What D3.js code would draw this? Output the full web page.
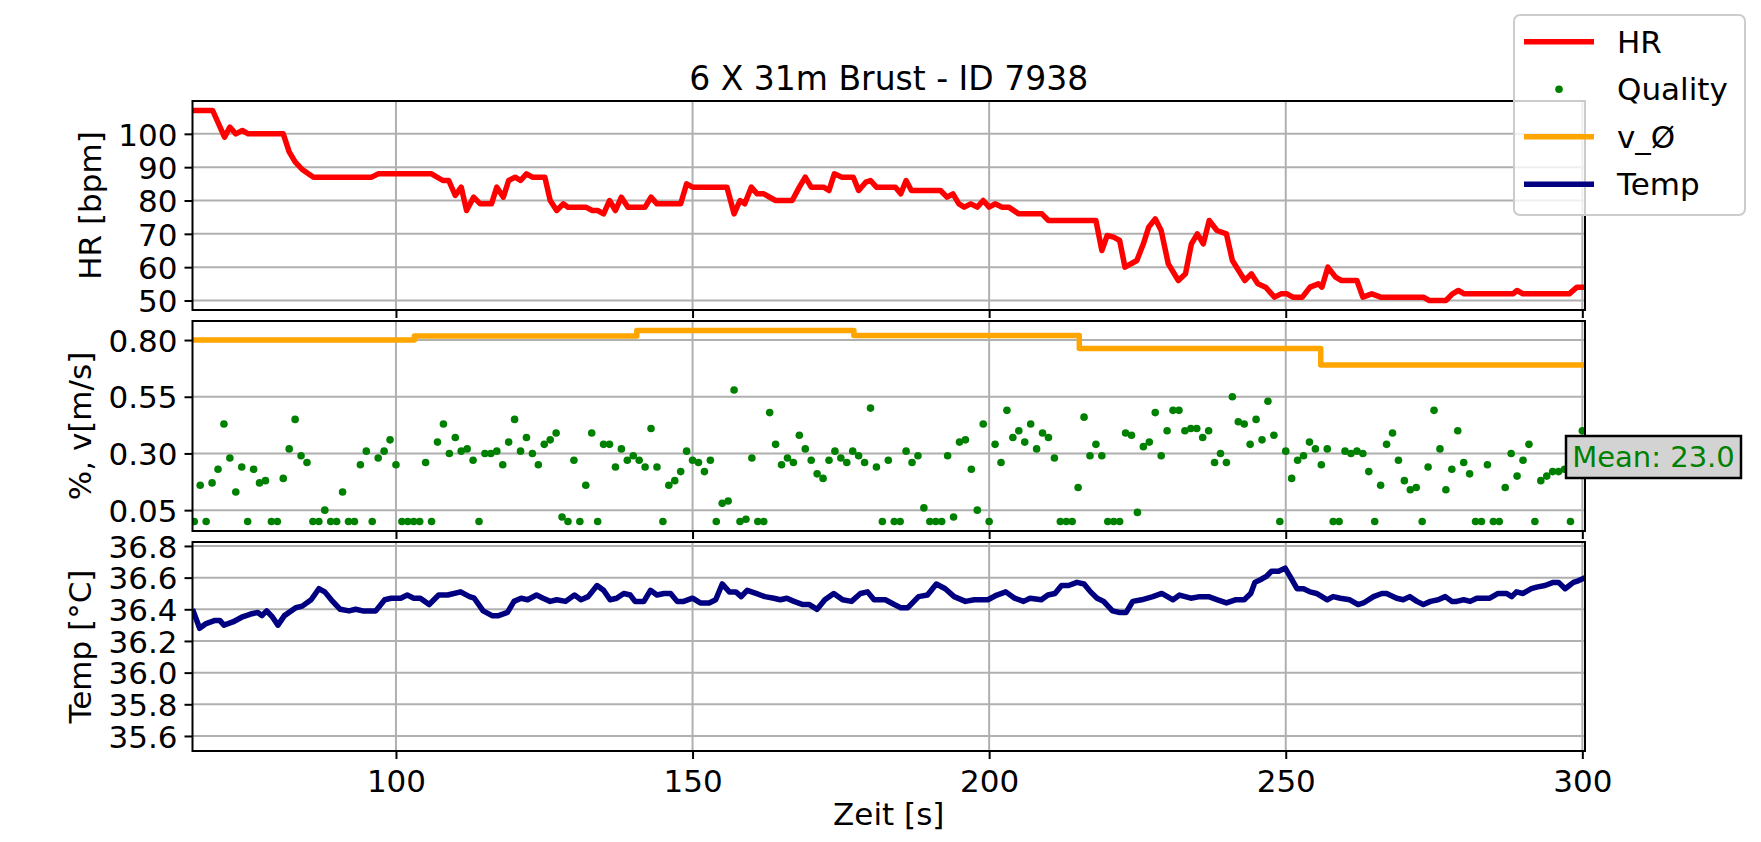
<!DOCTYPE html>
<html><head><meta charset="utf-8">
<script src="https://cdn.jsdelivr.net/npm/d3@7"></script>
<style>body{margin:0;background:#fff;} text{font-family:"DejaVu Sans",sans-serif;}</style>
</head><body>
<svg id="c" width="1761" height="842"></svg>
<script>
// ---------------- DATA ----------------
const title = "6 X 31m Brust - ID 7938";
const xTicks = [100, 150, 200, 250, 300];
const hrTicks = [50, 60, 70, 80, 90, 100];
const qvTicks = [0.05, 0.30, 0.55, 0.80];
const qvTickLabels = ["0.05", "0.30", "0.55", "0.80"];
const tempTicks = [35.6, 35.8, 36.0, 36.2, 36.4, 36.6, 36.8];

const hrT = [65.7,69.1,71.1,72,73,74.1,75.1,81,82,83,84.2,86.1,95.9,97,106,107.9,108.9,110,111,111.9,113.1,114.2,116.1,117,118.1,119,120.1,121,122,123,125.1,126,127.1,128.2,129,132,133.1,134,135,136,137,138,139.1,142,143,144,148,149,150,155.8,157,158,158.8,159.9,160.9,162,164,166.8,168,169,170,172.1,173,173.9,175.2,177.1,178,179.2,180,181,184.2,185.1,186,186.9,191.8,192.9,193.9,194.9,195.8,196.9,198,199,200,201,202.2,203.3,205,208.9,210,218,219,219.9,221,222,222.9,224.9,226,226.9,228,229,230.2,231.9,233.1,234.1,235.1,236.1,237.1,238.4,240,241,243.1,244.2,245.3,246.6,248.1,249.2,250.2,251.2,252.8,254.1,255.5,256.1,257.1,258.4,259.4,262,263,264.5,266,273.2,274.2,277,278.1,279.1,280.1,288.3,289,290,297.8,299.1,300.45];
const hrV = [107,107,99,102,100,101,100,100,94.6,91.6,89.3,87,87,88,88,86,86,81.5,84,77,81,79,79,84,81,86,87,86,88,87,87,80,77,79,78,78,77,77,76,80,77,81,78,78,81,79,79,85,84,84,76,80,79,84,82,82,80,80,84,87,84,84,83,88,87,87,83,85.5,86,84,84,82,86,83,83,81,82,79,78,79,78,80,78,79,78,78,76,76,74,74,65,69.5,69,68,60,62,67,72,74.5,71,61,56,58,67,70,67,74,71,70,62,56,58,55,54,51,52,52,51,51,54,55,54,60,57,56,56,51,52,51,51,50,50,52,53,52,52,53,52,52,54,54];

const qualityT = d3.range(66, 301);
const qualityV = [0,0.16,0,0.17,0.23,0.43,0.28,0.13,0.24,0,0.23,0.17,0.18,0,0,0.19,0.32,0.45,0.29,0.26,0,0,0.05,0,0,0.13,0,0,0.25,0.31,0,0.28,0.31,0.36,0.25,0,0,0,0,0.26,0,0.35,0.43,0.30,0.37,0.31,0.32,0.27,0,0.30,0.30,0.31,0.25,0.35,0.45,0.31,0.37,0.30,0.25,0.34,0.36,0.39,0.02,0,0.27,0,0.16,0.39,0,0.34,0.34,0.24,0.32,0.27,0.29,0.27,0.24,0.41,0.24,0,0.16,0.18,0.22,0.31,0.27,0.26,0.22,0.27,0,0.08,0.09,0.58,0,0.01,0.28,0,0,0.48,0.34,0.25,0.28,0.26,0.38,0.32,0.27,0.21,0.19,0.27,0.31,0.28,0.26,0.31,0.29,0.26,0.50,0.24,0,0.27,0,0,0.31,0.26,0.29,0.06,0,0,0,0.29,0.02,0.35,0.36,0.23,0.05,0.43,0,0.34,0.26,0.49,0.37,0.40,0.35,0.43,0.32,0.39,0.37,0.28,0,0,0,0.15,0.46,0.29,0.34,0.29,0,0,0,0.39,0.38,0.04,0.33,0.35,0.48,0.29,0.40,0.49,0.49,0.40,0.41,0.41,0.37,0.40,0.26,0.30,0.26,0.55,0.44,0.43,0.34,0.45,0.36,0.53,0.38,0,0.31,0.19,0.27,0.29,0.35,0.32,0.25,0.32,0,0,0.31,0.30,0.31,0.30,0.22,0,0.16,0.34,0.39,0.27,0.18,0.14,0.15,0,0.24,0.49,0.32,0.14,0.23,0.40,0.26,0.21,0,0,0.25,0,0,0.15,0.30,0.20,0.27,0.34,0,0.18,0.20,0.22,0.22,0.23,0,0.25,0.40];
const qualityMeanLabel = "Mean: 23.0";

const vT = [65.7, 103.1, 140.6, 177.2, 215.2, 255.9, 300.45];
const vV = [0.80, 0.818, 0.842, 0.82, 0.763, 0.69, 0.69];

const tempT = [65.7,66.9,68,69.5,70.3,71,72.5,74,75.5,76.7,77.4,78.2,79.2,80.1,81.2,83.1,84.2,85.7,87,88,89.1,90.6,92.1,93.2,94.4,96.6,98.1,99.2,100.8,101.9,103,104.1,105.6,107.2,108.7,110.9,112.4,113.2,114.7,116.2,117.3,118.8,119.9,121.1,122.2,123.7,124.8,126,127.1,128.6,130.1,131.2,132.4,133.9,135,136.1,137.2,138.4,139.5,140.3,141.8,142.9,144,145.2,146.3,147.4,148.5,150,151.3,152.8,153.9,155,156.2,157.3,158.2,159.2,160.7,162.2,163.7,164.8,165.9,167.1,168.6,169.7,171,172.3,173.8,175.3,176.8,178.3,179.5,180.6,182.5,184,185.1,186.3,188.1,189.6,191.1,192.6,194.1,196,197.5,199.8,201.3,202.8,204.3,205.8,206.9,208.8,209.9,211.1,212.2,213.4,214.8,216,217.1,218.2,219.3,220.8,222,223.1,224.2,225.7,227.6,229.1,231,232.1,234,235.5,237,238.5,240,241.5,243,244.1,244.8,245.9,246.8,247.6,248.8,249.9,250.7,251.9,253,254.1,255.2,256.1,257,258,259.2,260.8,262.2,263.1,264.8,266.2,267,268.7,269.8,270.9,272.1,273.2,274.4,275.7,276.9,278,278.8,280,281.1,282.2,284.4,285.8,287.2,288.1,288.9,290,291.4,292.3,293.7,295.1,296,297.1,298.5,299.3,300.45];
const tempV = [36.40,36.28,36.31,36.33,36.33,36.30,36.32,36.35,36.37,36.38,36.36,36.39,36.35,36.30,36.36,36.41,36.42,36.46,36.53,36.51,36.46,36.40,36.39,36.40,36.39,36.39,36.46,36.47,36.47,36.49,36.47,36.47,36.43,36.49,36.49,36.51,36.48,36.47,36.39,36.36,36.36,36.38,36.45,36.47,36.46,36.49,36.47,36.45,36.46,36.45,36.49,36.46,36.48,36.55,36.52,36.46,36.47,36.50,36.49,36.45,36.45,36.52,36.49,36.50,36.50,36.45,36.45,36.47,36.44,36.44,36.46,36.56,36.51,36.51,36.48,36.52,36.50,36.48,36.47,36.46,36.47,36.45,36.43,36.43,36.40,36.46,36.50,36.46,36.45,36.50,36.51,36.46,36.46,36.43,36.41,36.41,36.48,36.49,36.56,36.53,36.48,36.45,36.46,36.46,36.49,36.51,36.47,36.45,36.47,36.46,36.49,36.50,36.55,36.55,36.57,36.56,36.51,36.47,36.45,36.39,36.38,36.38,36.45,36.46,36.48,36.50,36.46,36.49,36.47,36.48,36.48,36.46,36.44,36.46,36.46,36.50,36.57,36.59,36.61,36.64,36.64,36.66,36.61,36.53,36.53,36.51,36.50,36.48,36.46,36.48,36.47,36.46,36.43,36.44,36.48,36.50,36.50,36.47,36.46,36.48,36.45,36.43,36.45,36.46,36.48,36.45,36.45,36.46,36.45,36.47,36.47,36.50,36.50,36.48,36.51,36.50,36.53,36.54,36.55,36.57,36.57,36.53,36.57,36.58,36.60];

const legendItems = [
  {label: "HR", color: "#ff0000", type: "line"},
  {label: "Quality", color: "#008000", type: "dot"},
  {label: "v_Ø", color: "#ffa500", type: "line"},
  {label: "Temp", color: "#000080", type: "line"}
];

// ---------------- LAYOUT ----------------
const svg = d3.select("#c");
const L = 192.5, R = 1585;
const panels = [
  {top: 101, bottom: 310},
  {top: 321, bottom: 531},
  {top: 542, bottom: 751}
];
const FS = 31;
const LW = 5.5;
const x = d3.scaleLinear().domain([65.7, 300.45]).range([L, R]);
const y1 = d3.scaleLinear().domain([47.15, 109.85]).range([panels[0].bottom, panels[0].top]);
const y2 = d3.scaleLinear().domain([-0.042, 0.884]).range([panels[1].bottom, panels[1].top]);
const y3 = d3.scaleLinear().domain([35.505, 36.825]).range([panels[2].bottom, panels[2].top]);
const yScales = [y1, y2, y3];
const yTickSets = [hrTicks, qvTicks, tempTicks];
const yFmt = [d => String(d), (d, i) => qvTickLabels[i], d => d.toFixed(1)];
const yLabels = ["HR [bpm]", "%, v[m/s]", "Temp [°C]"];
const yLabelX = [101, 91, 91];

const defs = svg.append("defs");
panels.forEach((p, i) => {
  defs.append("clipPath").attr("id", "clip" + i)
    .append("rect").attr("x", L).attr("y", p.top).attr("width", R - L).attr("height", p.bottom - p.top);
});

panels.forEach((p, i) => {
  const g = svg.append("g");
  const ys = yScales[i];
  const grid = g.append("g");
  xTicks.forEach(t => grid.append("line").attr("x1", x(t)).attr("x2", x(t)).attr("y1", p.top).attr("y2", p.bottom)
    .attr("stroke", "#b0b0b0").attr("stroke-width", 2));
  yTickSets[i].forEach(t => grid.append("line").attr("x1", L).attr("x2", R).attr("y1", ys(t)).attr("y2", ys(t))
    .attr("stroke", "#b0b0b0").attr("stroke-width", 2));
  const xa = d3.axisBottom(x).tickValues(xTicks).tickSize(8).tickPadding(7)
    .tickFormat(i === 2 ? d3.format("d") : () => "");
  const gx = g.append("g").attr("transform", `translate(0,${p.bottom})`).call(xa);
  gx.select(".domain").remove();
  gx.selectAll(".tick line").attr("stroke", "#000").attr("stroke-width", 2);
  gx.selectAll(".tick text").attr("font-size", FS).attr("fill", "#000").attr("font-family", "DejaVu Sans").attr("dy", "0.85em");
  const ya = d3.axisLeft(ys).tickValues(yTickSets[i]).tickSize(8).tickPadding(7).tickFormat(yFmt[i]);
  const gy = g.append("g").attr("transform", `translate(${L},0)`).call(ya);
  gy.select(".domain").remove();
  gy.selectAll(".tick line").attr("stroke", "#000").attr("stroke-width", 2);
  gy.selectAll(".tick text").attr("font-size", FS).attr("fill", "#000").attr("font-family", "DejaVu Sans").attr("dy", "0.36em");
  g.append("text").attr("transform", `translate(${yLabelX[i]},${(p.top + p.bottom) / 2}) rotate(-90)`)
    .attr("text-anchor", "middle").attr("font-size", FS).text(yLabels[i]);
});

// HR line
const line1 = d3.line().x((d, i) => x(hrT[i])).y(d => y1(d));
svg.append("path").datum(hrV).attr("clip-path", "url(#clip0)").attr("d", line1)
  .attr("fill", "none").attr("stroke", "#ff0000").attr("stroke-width", LW).attr("stroke-linejoin", "round");

// v step line
const lineV = d3.line().x((d, i) => x(vT[i])).y(d => y2(d)).curve(d3.curveStepAfter);
svg.append("path").datum(vV).attr("clip-path", "url(#clip1)").attr("d", lineV)
  .attr("fill", "none").attr("stroke", "#ffa500").attr("stroke-width", LW).attr("stroke-linejoin", "round");

// quality dots
svg.append("g").attr("clip-path", "url(#clip1)").selectAll("circle").data(qualityV).join("circle")
  .attr("cx", (d, i) => x(qualityT[i])).attr("cy", d => y2(d)).attr("r", 3.8).attr("fill", "#008000");

// Temp line
const line3 = d3.line().x((d, i) => x(tempT[i])).y(d => y3(d));
svg.append("path").datum(tempV).attr("clip-path", "url(#clip2)").attr("d", line3)
  .attr("fill", "none").attr("stroke", "#000080").attr("stroke-width", LW).attr("stroke-linejoin", "round");

// spines
panels.forEach(p => {
  svg.append("rect").attr("x", L).attr("y", p.top).attr("width", R - L).attr("height", p.bottom - p.top)
    .attr("fill", "none").attr("stroke", "#000").attr("stroke-width", 2);
});

// title & x label
svg.append("text").attr("x", (L + R) / 2).attr("y", 90).attr("text-anchor", "middle").attr("font-size", 33).text(title);
svg.append("text").attr("x", (L + R) / 2).attr("y", 825).attr("text-anchor", "middle").attr("font-size", FS).text("Zeit [s]");

// mean box
const mb = svg.append("g");
mb.append("rect").attr("x", 1566).attr("y", 436).attr("width", 175).attr("height", 42)
  .attr("fill", "#d3d3d3").attr("stroke", "#000").attr("stroke-width", 2.5);
mb.append("text").attr("x", 1653.5).attr("y", 467).attr("text-anchor", "middle").attr("font-size", 29)
  .attr("fill", "#008000").text(qualityMeanLabel);

// legend
const lg = svg.append("g");
lg.append("rect").attr("x", 1514).attr("y", 15).attr("width", 231).attr("height", 200).attr("rx", 6)
  .attr("fill", "#ffffff").attr("fill-opacity", 0.8).attr("stroke", "#cccccc").attr("stroke-width", 2);
legendItems.forEach((it, i) => {
  const cy = 41.7 + i * 47.5;
  if (it.type === "line") {
    lg.append("line").attr("x1", 1524).attr("x2", 1594).attr("y1", cy).attr("y2", cy)
      .attr("stroke", it.color).attr("stroke-width", LW);
  } else {
    lg.append("circle").attr("cx", 1559).attr("cy", cy).attr("r", 3.8).attr("fill", it.color);
  }
  lg.append("text").attr("x", 1617).attr("y", cy + 11).attr("font-size", FS).text(it.label);
});
</script>
</body></html>
